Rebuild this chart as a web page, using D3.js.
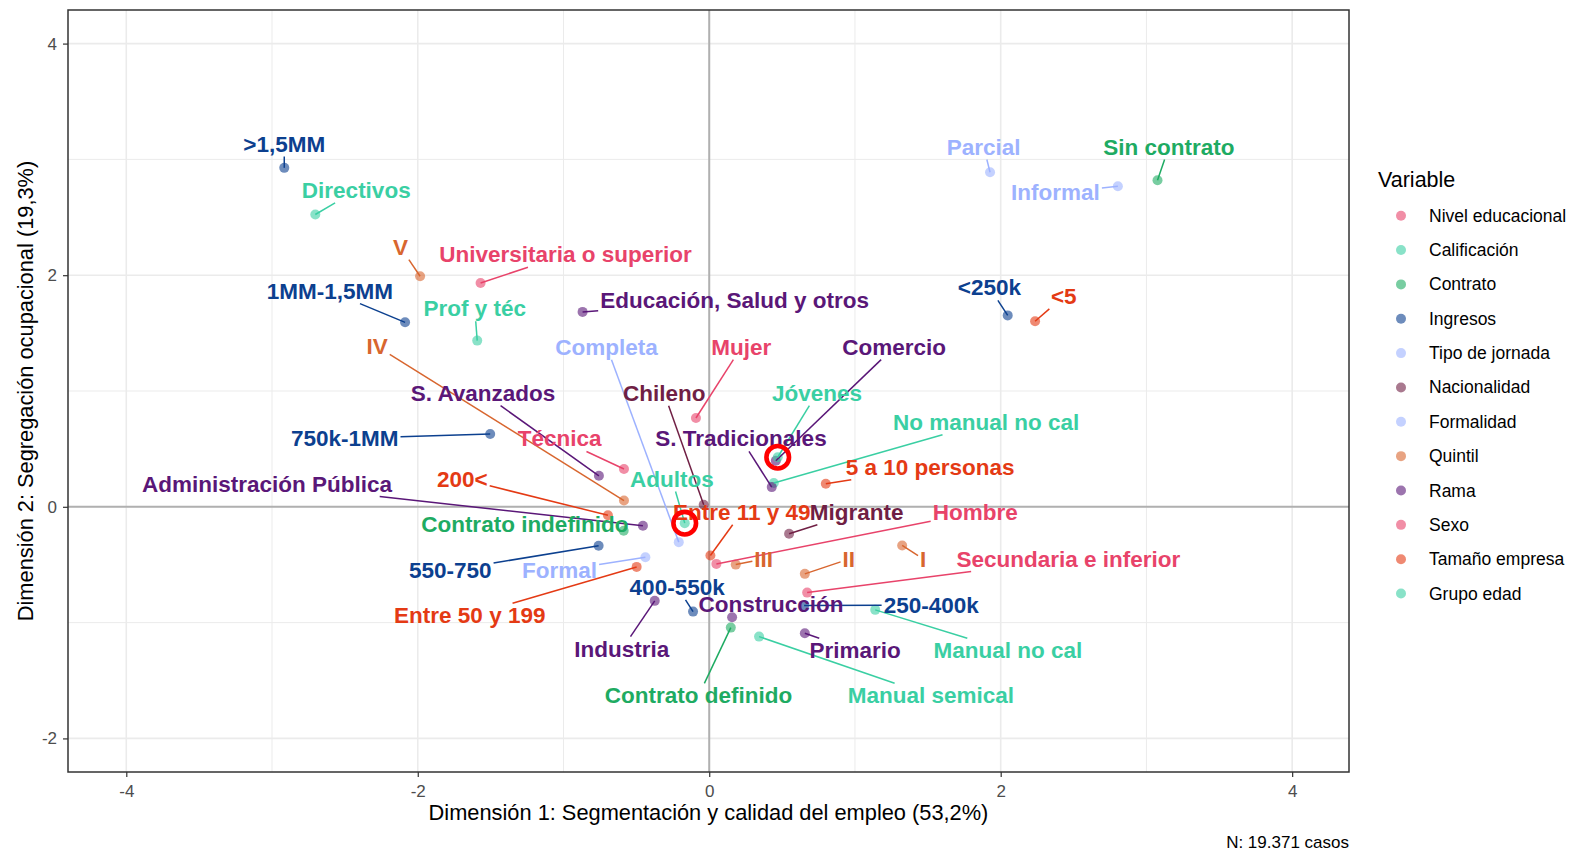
<!DOCTYPE html>
<html>
<head>
  <meta charset="utf-8">
  <script src="https://cdnjs.cloudflare.com/ajax/libs/d3/7.8.5/d3.min.js"></script>
  <style>
    body { margin: 0; background: #fff; }
    svg { font-family: "Liberation Sans", Arial, sans-serif; }
    .tick-label { font-size: 17px; fill: #4d4d4d; }
    .axis-title { font-size: 21.8px; fill: #000; }
    .cat-label { font-size: 22.5px; font-weight: bold; }
    .legend-title { font-size: 21.5px; fill: #000; }
    .legend-label { font-size: 17.5px; fill: #000; }
  </style>
</head>
<body>
  <div id="graph"></div>
  <script>
    // Legend groups and their label colours
    const legendOrder = ["Nivel educacional", "Calificación", "Contrato", "Ingresos", "Tipo de jornada",
      "Nacionalidad", "Formalidad", "Quintil", "Rama", "Sexo", "Tamaño empresa", "Grupo edad"];
    const groupColors = ["#E8436A", "#3ACFA3", "#1EAB62", "#0C408F", "#9DB2FF",
      "#701F44", "#9DB2FF", "#D8662F", "#5A1778", "#E8436A", "#E43A14", "#3ACFA3"];

    // Categories (row order), their variable and coordinates on both dimensions
    const categories = [
      "Universitaria o superior", "Técnica", "Secundaria e inferior",
      "Directivos", "Prof y téc", "No manual no cal", "Manual no cal", "Manual semical",
      "Sin contrato", "Contrato indefinido", "Contrato definido",
      ">1,5MM", "1MM-1,5MM", "750k-1MM", "550-750", "400-550k", "250-400k", "<250k",
      "Parcial", "Completa",
      "Chileno", "Migrante",
      "Informal", "Formal",
      "V", "IV", "III", "II", "I",
      "Educación, Salud y otros", "Comercio", "S. Avanzados", "S. Tradicionales",
      "Administración Pública", "Industria", "Construcción", "Primario",
      "Mujer", "Hombre",
      "<5", "5 a 10 personas", "Entre 11 y 49", "Entre 50 y 199", "200<",
      "Jóvenes", "Adultos"
    ];
    const variables = [
      "Nivel educacional", "Nivel educacional", "Nivel educacional",
      "Calificación", "Calificación", "Calificación", "Calificación", "Calificación",
      "Contrato", "Contrato", "Contrato",
      "Ingresos", "Ingresos", "Ingresos", "Ingresos", "Ingresos", "Ingresos", "Ingresos",
      "Tipo de jornada", "Tipo de jornada",
      "Nacionalidad", "Nacionalidad",
      "Formalidad", "Formalidad",
      "Quintil", "Quintil", "Quintil", "Quintil", "Quintil",
      "Rama", "Rama", "Rama", "Rama", "Rama", "Rama", "Rama", "Rama",
      "Sexo", "Sexo",
      "Tamaño empresa", "Tamaño empresa", "Tamaño empresa", "Tamaño empresa", "Tamaño empresa",
      "Grupo edad", "Grupo edad"
    ];
    const dim1 = [
      -1.569, -0.585, 0.672,
      -2.703, -1.592, 0.443, 1.139, 0.342,
      3.076, -0.587, 0.148,
      -2.916, -2.087, -1.503, -0.759, -0.111, 0.651, 2.048,
      1.927, -0.209,
      -0.038, 0.548,
      2.804, -0.438,
      -1.984, -0.585, 0.182, 0.656, 1.324,
      -0.869, 0.457, -0.757, 0.429, -0.455, -0.374, 0.157, 0.656,
      -0.091, 0.049,
      2.236, 0.800, 0.008, -0.498, -0.695,
      0.470, -0.168
    ];
    const dim2 = [
      1.933, 0.326, -0.741,
      2.524, 1.435, 0.205, -0.890, -1.121,
      2.820, -0.207, -1.043,
      2.927, 1.593, 0.628, -0.337, -0.905, -0.853, 1.653,
      2.889, -0.305,
      0.017, -0.233,
      2.768, -0.435,
      1.991, 0.054, -0.499, -0.579, -0.334,
      1.683, 0.398, 0.268, 0.170, -0.164, -0.812, -0.953, -1.092,
      0.767, -0.493,
      1.602, 0.199, -0.421, -0.519, -0.073,
      0.428, -0.141
    ];
    // Repelled label positions (centre x, baseline y) in data units
    const labelX = [
      -0.986, -1.027, 2.464,
      -2.422, -1.609, 1.900, 2.049, 1.521,
      3.154, -1.265, -0.074,
      -2.916, -2.603, -2.501, -1.777, -0.220, 1.523, 1.923,
      1.883, -0.704,
      -0.309, 1.011,
      2.376, -1.027,
      -2.119, -2.279, 0.374, 0.958, 1.468,
      0.174, 1.269, -1.552, 0.218, -3.034, -0.600, 0.424, 1.001,
      0.220, 1.825,
      2.433, 1.516, 0.223, -1.643, -1.694,
      0.740, -0.256
    ];
    const labelY = [
      2.112, 0.521, -0.516,
      2.668, 1.645, 0.666, -1.308, -1.697,
      3.042, -0.216, -1.697,
      3.068, 1.798, 0.527, -0.611, -0.761, -0.914, 1.826,
      3.042, 1.314,
      0.916, -0.112,
      2.647, -0.616,
      2.178, 1.320, -0.516, -0.516, -0.516,
      1.717, 1.314, 0.916, 0.521, 0.132, -1.294, -0.905, -1.308,
      1.314, -0.112,
      1.752, 0.277, -0.112, -1.005, 0.175,
      0.916, 0.175
    ];
    const highlighted = ["Jóvenes", "Adultos"];

    const xTicks = [-4, -2, 0, 2, 4];
    const yTicks = [-2, 0, 2, 4];
    const xMinor = [-3, -1, 1, 3];
    const yMinor = [-1, 1, 3];

    const W = 1575, H = 854;
    const plot = {left: 68, right: 1349, top: 10, bottom: 772};

    const svg = d3.select("#graph").append("svg")
      .attr("width", W).attr("height", H);

    const x = d3.scaleLinear().domain([-4.40, 4.39]).range([plot.left, plot.right]);
    const y = d3.scaleLinear().domain([-2.29, 4.29]).range([plot.bottom, plot.top]);
    const color = d3.scaleOrdinal().domain(legendOrder).range(groupColors);

    const data = categories.map((c, i) => ({
      name: c, variable: variables[i], d1: dim1[i], d2: dim2[i], lx: labelX[i], ly: labelY[i]
    }));

    // Grid
    const grid = svg.append("g");
    grid.selectAll(".gx-minor").data(xMinor).join("line")
      .attr("x1", d => x(d)).attr("x2", d => x(d))
      .attr("y1", plot.top).attr("y2", plot.bottom)
      .attr("stroke", "#EBEBEB").attr("stroke-width", 1);
    grid.selectAll(".gy-minor").data(yMinor).join("line")
      .attr("y1", d => y(d)).attr("y2", d => y(d))
      .attr("x1", plot.left).attr("x2", plot.right)
      .attr("stroke", "#EBEBEB").attr("stroke-width", 1);
    grid.selectAll(".gx").data(xTicks).join("line")
      .attr("x1", d => x(d)).attr("x2", d => x(d))
      .attr("y1", plot.top).attr("y2", plot.bottom)
      .attr("stroke", "#EBEBEB").attr("stroke-width", 1.6);
    grid.selectAll(".gy").data(yTicks).join("line")
      .attr("y1", d => y(d)).attr("y2", d => y(d))
      .attr("x1", plot.left).attr("x2", plot.right)
      .attr("stroke", "#EBEBEB").attr("stroke-width", 1.6);

    // Zero reference lines
    svg.append("line")
      .attr("x1", x(0)).attr("x2", x(0)).attr("y1", plot.top).attr("y2", plot.bottom)
      .attr("stroke", "#B0B0B0").attr("stroke-width", 2);
    svg.append("line")
      .attr("x1", plot.left).attr("x2", plot.right).attr("y1", y(0)).attr("y2", y(0))
      .attr("stroke", "#B0B0B0").attr("stroke-width", 2);

    // Axes (plain hyphen for negatives, like the original)
    const fmt = d => String(d);
    const xAxis = svg.append("g")
      .attr("transform", `translate(0,${plot.bottom})`)
      .call(d3.axisBottom(x).tickValues(xTicks).tickFormat(fmt).tickSize(5).tickPadding(8));
    const yAxis = svg.append("g")
      .attr("transform", `translate(${plot.left},0)`)
      .call(d3.axisLeft(y).tickValues(yTicks).tickFormat(fmt).tickSize(5).tickPadding(6));
    [xAxis, yAxis].forEach(a => {
      a.select(".domain").remove();
      a.selectAll(".tick line").attr("stroke", "#333").attr("stroke-width", 1.2);
      a.selectAll(".tick text").attr("class", "tick-label").attr("font-family", null).attr("font-size", null);
    });

    // Panel border
    svg.append("rect")
      .attr("x", plot.left).attr("y", plot.top)
      .attr("width", plot.right - plot.left).attr("height", plot.bottom - plot.top)
      .attr("fill", "none").attr("stroke", "#333").attr("stroke-width", 1.5);

    // Points
    svg.append("g").selectAll("circle").data(data).join("circle")
      .attr("cx", d => x(d.d1)).attr("cy", d => y(d.d2)).attr("r", 5)
      .attr("fill", d => color(d.variable)).attr("fill-opacity", 0.6);

    // Labels (repelled positions), then leader segments
    const segG = svg.append("g");
    const labG = svg.append("g");
    const labels = labG.selectAll("text").data(data).join("text")
      .attr("class", "cat-label")
      .attr("x", d => x(d.lx)).attr("y", d => y(d.ly))
      .attr("text-anchor", "middle")
      .attr("fill", d => color(d.variable))
      .text(d => d.name);

    labels.each(function(d) {
      const b = this.getBBox();
      const pad = 2;
      const cx = b.x + b.width / 2, cy = b.y + b.height / 2;
      const hw = b.width / 2 + pad, hh = b.height / 2 + pad - 2;
      const px = x(d.d1), py = y(d.d2);
      const dx = px - cx, dy = py - cy;
      if (Math.abs(dx) <= hw && Math.abs(dy) <= hh) return;
      const t = Math.min(dx !== 0 ? hw / Math.abs(dx) : Infinity, dy !== 0 ? hh / Math.abs(dy) : Infinity);
      const sx = cx + t * dx, sy = cy + t * dy;
      if (Math.hypot(px - sx, py - sy) < 6) return;
      segG.append("line")
        .attr("x1", sx).attr("y1", sy).attr("x2", px).attr("y2", py)
        .attr("stroke", color(d.variable)).attr("stroke-width", 1.5);
    });

    // Highlight rings
    svg.append("g").selectAll("circle").data(data.filter(d => highlighted.includes(d.name))).join("circle")
      .attr("cx", d => x(d.d1)).attr("cy", d => y(d.d2)).attr("r", 11.3)
      .attr("fill", "none").attr("stroke", "#FF0000").attr("stroke-width", 4.6);

    // Axis titles
    svg.append("text")
      .attr("class", "axis-title")
      .attr("x", (plot.left + plot.right) / 2).attr("y", 820)
      .attr("text-anchor", "middle")
      .text("Dimensión 1: Segmentación y calidad del empleo (53,2%)");
    svg.append("text")
      .attr("class", "axis-title")
      .attr("transform", `translate(32.5,${(plot.top + plot.bottom) / 2}) rotate(-90)`)
      .attr("text-anchor", "middle")
      .text("Dimensión 2: Segregación ocupacional (19,3%)");

    // Caption
    svg.append("text")
      .attr("x", plot.right).attr("y", 848)
      .attr("text-anchor", "end")
      .style("font-size", "17px").style("fill", "#000")
      .text("N: 19.371 casos");

    // Legend
    const legend = svg.append("g").attr("transform", "translate(1378,0)");
    legend.append("text").attr("class", "legend-title")
      .attr("x", 0).attr("y", 187).text("Variable");
    const items = legend.selectAll(".item").data(legendOrder).join("g")
      .attr("transform", (d, i) => `translate(0,${215.7 + i * 34.35})`);
    items.append("circle").attr("cx", 23).attr("cy", 0).attr("r", 5)
      .attr("fill", d => color(d)).attr("fill-opacity", 0.6);
    items.append("text").attr("class", "legend-label")
      .attr("x", 51).attr("y", 6).text(d => d);
  </script>
</body>
</html>
